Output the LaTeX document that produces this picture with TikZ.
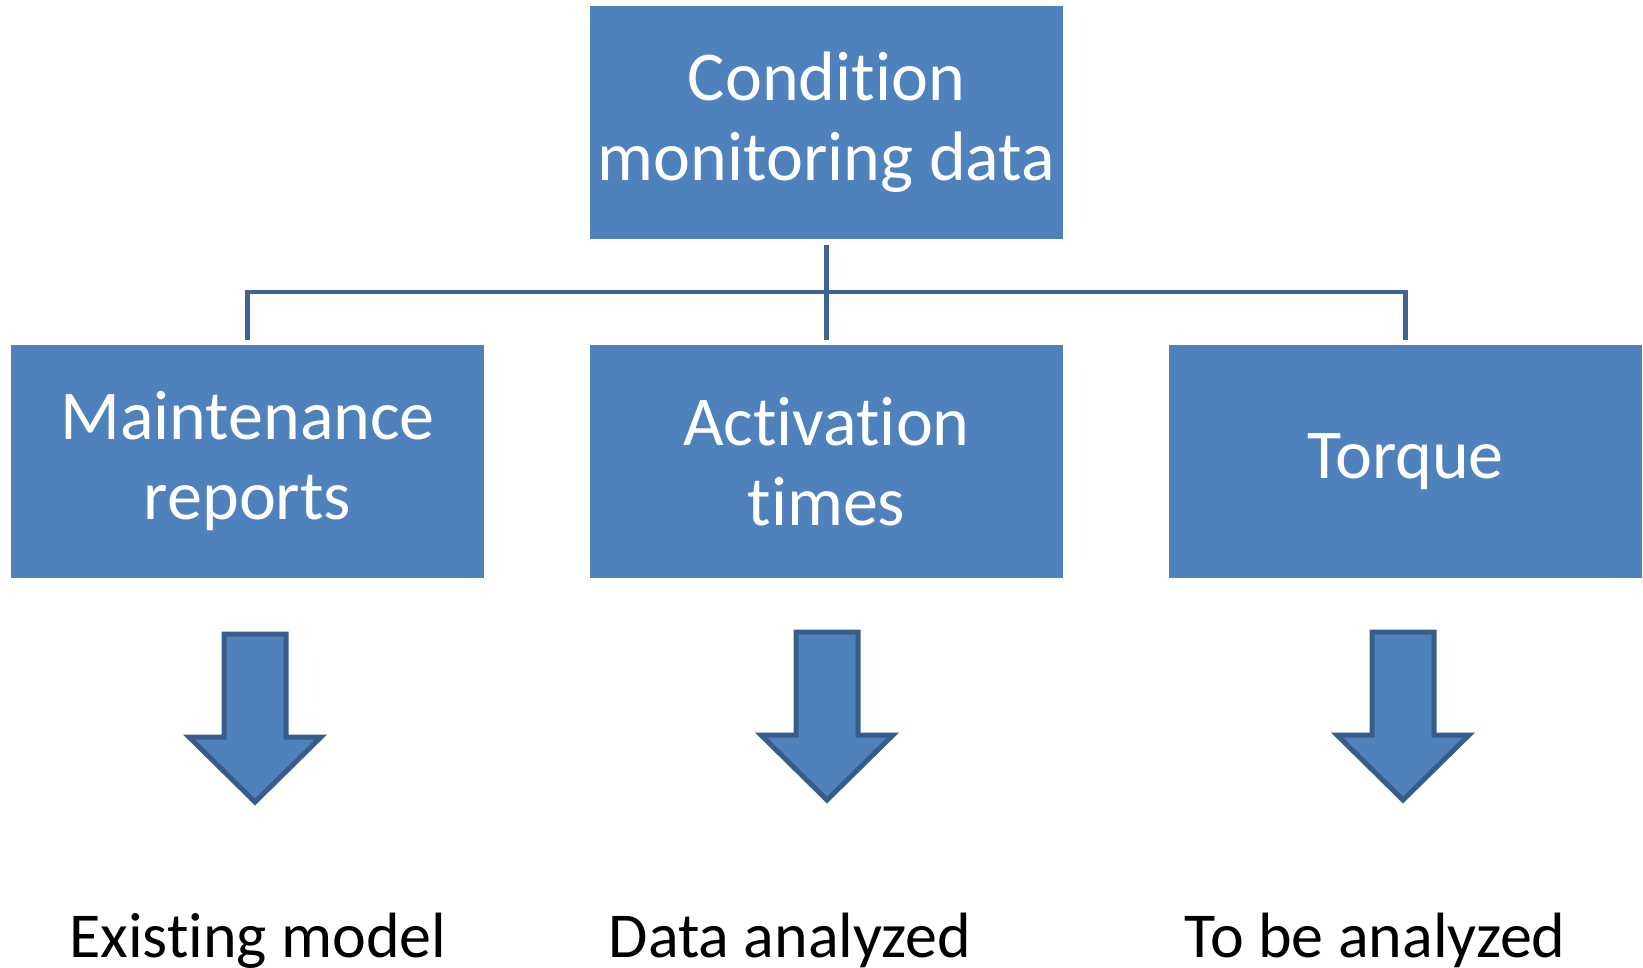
\documentclass[tikz,border=0pt]{standalone}
\usepackage{fontspec}
\setmainfont{Carlito}[Ligatures={NoCommon}]
\usetikzlibrary{positioning}

\definecolor{boxblue}{HTML}{4F81BD}
\definecolor{edgeblue}{HTML}{3F6491}
\definecolor{rimblue}{HTML}{385D8A}

\begin{document}
\begin{tikzpicture}[
        x=0.5pt, y=-0.5pt,
        node distance=53pt and 53pt,
        every path/.style={line width=2.2pt},
        block/.style={fill=boxblue, text=white, align=center, inner sep=1pt, outer sep=0pt,
            minimum width=236.5pt, minimum height=116.5pt,
            font=\fontsize{35}{40}\selectfont},
        link/.style={draw=edgeblue, line width=2.2pt},
        result/.style={anchor=base, inner sep=0pt, font=\fontsize{32}{38}\selectfont},
        downarrow/.pic={
            \draw[fill=boxblue, draw=rimblue, line width=2.5pt, line join=miter]
                (-31,0) -- (31,0) -- (31,103) -- (66,103) -- (0,168)
                -- (-66,103) -- (-31,103) -- cycle;
        }
    ]
    \useasboundingbox (0,0) rectangle (1643,968);

    % Nodes
    \node[block] (cmd) at (826.5,122.5) {Condition\\monitoring data};
    \node[block] (act)[below=of cmd] {Activation\\times};
    \node[block] (maint)[left=of act] {Maintenance\\reports};
    \node[block] (torq)[right=of act] {Torque};

    \pic at (255,634) {downarrow};
    \pic at (827,632) {downarrow};
    \pic at (1403,632) {downarrow};

    \node[result] (exist) at (258,957) {Existing model};
    \node[result] (done) at (790,957) {Data analyzed};
    \node[result] (todo) at (1375,957) {To be analyzed};

    % Edges
    \draw[link, shorten <=3pt, shorten >=2.5pt] (cmd) -- (act);
    \draw[link, shorten <=2.5pt, shorten >=2.5pt] (maint.north) -- ++(0pt,26.5pt) -| (torq.north);

\end{tikzpicture}
\end{document}
